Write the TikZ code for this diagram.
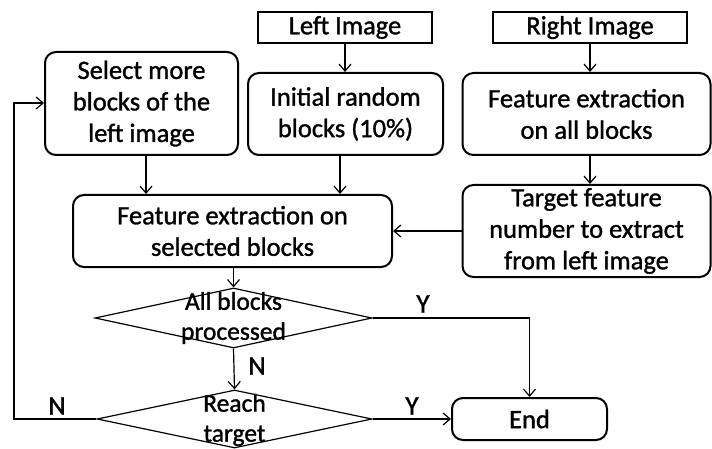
\documentclass[tikz,border=0pt]{standalone}
\usepackage{fontspec}
\setmainfont[FakeBold=1.2]{Carlito}
\usetikzlibrary{arrows.meta,shapes.geometric}

\tikzset{
  box/.style={draw, line width=2pt, rounded corners=11pt, inner sep=0pt,
    align=center, font=\fontsize{26.5}{31.5}\selectfont},
  srcbox/.style={draw, line width=2pt, inner sep=0pt, align=center,
    font=\fontsize{26.5}{31.5}\selectfont},
  decision/.style={draw, diamond, line width=1.2pt, inner sep=0pt},
  dtext/.style={align=center, inner sep=0pt, font=\fontsize{25.5}{30}\selectfont},
  lbl/.style={inner sep=0pt, font=\fontsize{27}{30}\selectfont},
  conn/.style={line width=1.2pt, -{Straight Barb[length=7pt,width=12pt,line width=1.2pt]}}
}

\begin{document}
\begin{tikzpicture}[x=1pt, y=-1pt]
  \useasboundingbox (0,0) rectangle (712,449);

  % source images
  \node[srcbox, minimum width=174pt, minimum height=31pt] (lefti) at (345,27.5) {Left Image};
  \node[srcbox, minimum width=194pt, minimum height=31pt] (righti) at (590,27.5) {Right Image};

  % processing steps
  \node[box, minimum width=193pt, minimum height=103pt] (select) at (141.5,103.5)
    {Select more\\blocks of the\\left image};
  \node[box, minimum width=195pt, minimum height=82pt] (initial) at (345.5,114)
    {Initial random\\blocks (10\%)};
  \node[box, minimum width=248pt, minimum height=82pt] (feall) at (586.5,114)
    {Feature extraction\\on all blocks};
  \node[box, minimum width=248pt, minimum height=92pt] (target) at (586.5,231)
    {Target feature\\number to extract\\from left image};
  \node[box, minimum width=319pt, minimum height=72pt] (fesel) at (232.5,231)
    {Feature extraction on\\selected blocks};
  \node[box, minimum width=155pt, minimum height=42pt] (end) at (529.5,419) {End};

  % decisions
  \node[decision, minimum width=277pt, minimum height=60pt] (d1) at (233.5,318) {};
  \node[dtext] (d1t) at (233.5,318) {All blocks\\processed};
  \node[decision, minimum width=275pt, minimum height=58pt] (d2) at (234.5,419) {};
  \node[dtext] (d2t) at (234.5,420) {Reach\\target};

  % connectors
  \draw[conn] (lefti) -- (lefti.south |- initial.north);
  \draw[conn] (righti) -- (righti.south |- feall.north);
  \draw[conn] (feall.south -| righti) -- (target.north -| righti);
  \draw[conn] (select.south -| 146,0) -- (fesel.north -| 146,0);
  \draw[conn] (initial.south -| 340,0) -- (fesel.north -| 340,0);
  \draw[conn] (target.west) -- (fesel.east);
  \draw[conn] (fesel.south -| d1.north) -- (d1.north);
  \draw[conn] (d1.south) -- (d2.north);
  \draw[conn] (d1.east) -| (end.north);
  \draw[conn] (d2.east) -- (end.west |- d2.east);
  \coordinate (back) at (14,103);
  \draw[conn] (d2.west) -| (back) -- (select.west |- back);

  % branch labels
  \node[lbl] (y1) at (423,304) {Y};
  \node[lbl] (y2) at (412,406) {Y};
  \node[lbl] (n1) at (257,366) {N};
  \node[lbl] (n2) at (57,406) {N};
\end{tikzpicture}
\end{document}
